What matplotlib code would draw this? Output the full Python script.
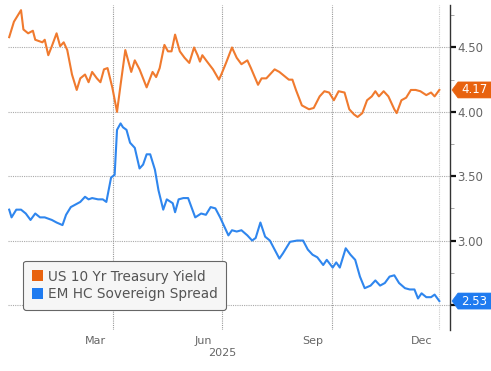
import pandas as pd
import matplotlib.pyplot as plt
import matplotlib.dates as mdates
from matplotlib.ticker import MultipleLocator, FixedLocator
from matplotlib.patches import Polygon, Patch
from matplotlib.transforms import IdentityTransform

# ---- data ----
ust_dates = ['2024-12-03', '2024-12-07', '2024-12-13', '2024-12-15', '2024-12-19', '2024-12-23',
             '2024-12-25', '2024-12-31', '2025-01-02', '2025-01-05', '2025-01-08', '2025-01-12',
             '2025-01-15', '2025-01-18', '2025-01-21', '2025-01-25', '2025-01-29', '2025-02-01',
             '2025-02-05', '2025-02-08', '2025-02-11', '2025-02-15', '2025-02-18', '2025-02-21',
             '2025-02-24', '2025-02-28', '2025-03-04', '2025-03-07', '2025-03-11', '2025-03-16',
             '2025-03-19', '2025-03-23', '2025-03-29', '2025-04-03', '2025-04-06', '2025-04-09',
             '2025-04-13', '2025-04-16', '2025-04-19', '2025-04-22', '2025-04-26', '2025-04-30',
             '2025-05-04', '2025-05-08', '2025-05-11', '2025-05-13', '2025-05-15', '2025-05-19',
             '2025-05-24', '2025-05-29', '2025-05-31', '2025-06-04', '2025-06-09', '2025-06-13',
             '2025-06-17', '2025-06-22', '2025-06-25', '2025-07-01', '2025-07-04', '2025-07-08',
             '2025-07-15', '2025-07-19', '2025-07-27', '2025-07-30', '2025-08-02', '2025-08-07',
             '2025-08-13', '2025-08-17', '2025-08-22', '2025-08-26', '2025-08-30', '2025-09-03',
             '2025-09-07', '2025-09-12', '2025-09-16', '2025-09-20', '2025-09-23', '2025-09-27',
             '2025-10-01', '2025-10-05', '2025-10-08', '2025-10-11', '2025-10-15', '2025-10-19',
             '2025-10-24', '2025-10-26', '2025-10-30', '2025-11-03', '2025-11-07', '2025-11-11',
             '2025-11-15', '2025-11-20', '2025-11-24', '2025-11-27', '2025-12-01']
ust_yield = [4.58, 4.70, 4.79, 4.64, 4.61, 4.63,
             4.56, 4.54, 4.56, 4.44, 4.51, 4.61,
             4.51, 4.54, 4.48, 4.29, 4.17, 4.26,
             4.29, 4.23, 4.31, 4.26, 4.23, 4.33,
             4.34, 4.19, 4.00, 4.21, 4.48, 4.31,
             4.40, 4.33, 4.19, 4.31, 4.27, 4.34,
             4.52, 4.47, 4.47, 4.60, 4.47, 4.42,
             4.38, 4.50, 4.44, 4.39, 4.44, 4.39,
             4.33, 4.25, 4.29, 4.38, 4.50, 4.42,
             4.37, 4.40, 4.34, 4.21, 4.26, 4.26,
             4.33, 4.31, 4.25, 4.25, 4.17, 4.05,
             4.02, 4.03, 4.12, 4.16, 4.15, 4.09,
             4.16, 4.15, 4.02, 3.98, 3.96, 3.99,
             4.09, 4.12, 4.16, 4.12, 4.16, 4.12,
             4.02, 3.99, 4.09, 4.11, 4.17, 4.17,
             4.16, 4.13, 4.15, 4.12, 4.17]

em_dates = ['2024-12-03', '2024-12-05', '2024-12-09', '2024-12-13', '2024-12-17', '2024-12-21',
            '2024-12-25', '2024-12-29', '2025-01-02', '2025-01-08', '2025-01-12', '2025-01-17',
            '2025-01-20', '2025-01-24', '2025-01-28', '2025-02-01', '2025-02-05', '2025-02-08',
            '2025-02-11', '2025-02-16', '2025-02-20', '2025-02-23', '2025-02-27', '2025-03-02',
            '2025-03-04', '2025-03-07', '2025-03-09', '2025-03-12', '2025-03-15', '2025-03-19',
            '2025-03-23', '2025-03-26', '2025-03-29', '2025-04-01', '2025-04-05', '2025-04-08',
            '2025-04-12', '2025-04-15', '2025-04-20', '2025-04-22', '2025-04-25', '2025-04-29',
            '2025-05-03', '2025-05-05', '2025-05-09', '2025-05-14', '2025-05-18', '2025-05-22',
            '2025-05-26', '2025-05-30', '2025-06-03', '2025-06-06', '2025-06-09', '2025-06-13',
            '2025-06-17', '2025-06-22', '2025-06-26', '2025-06-29', '2025-07-03', '2025-07-07',
            '2025-07-11', '2025-07-15', '2025-07-19', '2025-07-22', '2025-07-28', '2025-08-03',
            '2025-08-08', '2025-08-12', '2025-08-16', '2025-08-20', '2025-08-25', '2025-08-28',
            '2025-09-02', '2025-09-05', '2025-09-08', '2025-09-13', '2025-09-17', '2025-09-21',
            '2025-09-25', '2025-09-29', '2025-10-04', '2025-10-08', '2025-10-12', '2025-10-16',
            '2025-10-20', '2025-10-24', '2025-10-28', '2025-11-02', '2025-11-06', '2025-11-10',
            '2025-11-13', '2025-11-16', '2025-11-20', '2025-11-24', '2025-11-27', '2025-12-01']
em_spread = [3.24, 3.18, 3.24, 3.24, 3.21, 3.16,
             3.21, 3.18, 3.18, 3.16, 3.14, 3.12,
             3.20, 3.26, 3.28, 3.30, 3.34, 3.32,
             3.33, 3.32, 3.32, 3.30, 3.49, 3.51,
             3.86, 3.91, 3.88, 3.86, 3.76, 3.72,
             3.56, 3.59, 3.67, 3.67, 3.55, 3.39,
             3.24, 3.32, 3.29, 3.22, 3.32, 3.33,
             3.33, 3.28, 3.18, 3.21, 3.20, 3.26,
             3.25, 3.18, 3.10, 3.04, 3.08, 3.07,
             3.08, 3.04, 3.00, 3.02, 3.14, 3.03,
             3.00, 2.93, 2.86, 2.90, 2.99, 3.00,
             3.00, 2.93, 2.89, 2.87, 2.81, 2.85,
             2.79, 2.83, 2.79, 2.94, 2.89, 2.85,
             2.72, 2.63, 2.65, 2.69, 2.65, 2.67,
             2.72, 2.73, 2.67, 2.63, 2.62, 2.62,
             2.55, 2.59, 2.56, 2.56, 2.58, 2.53]

series_names = ['US 10 Yr Treasury Yield', 'EM HC Sovereign Spread']
last_labels = ['4.17', '2.53']
y_ticks = [2.50, 3.00, 3.50, 4.00, 4.50]
y_tick_labels = ['', '3.00', '3.50', '4.00', '4.50']   # 2.50 sits under the blue tag
month_labels = ['Mar', 'Jun', 'Sep', 'Dec']

ORANGE = '#F07A2E'
BLUE = '#2F86EE'
TAG_ORANGE = '#E8620E'
TAG_BLUE = '#1F7BF0'

ust = pd.Series(ust_yield, index=pd.to_datetime(ust_dates))
em = pd.Series(em_spread, index=pd.to_datetime(em_dates))

fig = plt.figure(figsize=(4.91, 3.71), dpi=100)
ax = fig.add_axes([8 / 491, 1 - 330 / 371, 442 / 491, 325 / 371])

ax.plot(ust.index, ust.values, color=ORANGE, lw=1.5)
ax.plot(em.index, em.values, color=BLUE, lw=1.5)

ax.set_xlim(pd.Timestamp('2024-12-02'), pd.Timestamp('2025-12-10'))
ax.set_ylim(2.305, 4.83)

# ---- y axis on the right ----
for s in ['left', 'top', 'bottom']:
    ax.spines[s].set_visible(False)
ax.spines['right'].set_color('#333333')
ax.spines['right'].set_linewidth(1.0)
ax.yaxis.tick_right()
ax.set_yticks(y_ticks)
ax.set_yticklabels(y_tick_labels)
ax.yaxis.set_minor_locator(MultipleLocator(0.25))
ax.tick_params(axis='y', which='major', direction='out', length=4, width=1.6,
               color='#111111', labelsize=8.5, labelcolor='#666666', pad=1)
ax.tick_params(axis='y', which='minor', direction='out', length=3, width=0.6,
               color='#999999')

# ---- x axis: gridlines at quarter starts, labels a bit to the left ----
grid_dates = pd.to_datetime(['2025-03-01', '2025-06-01', '2025-09-01', '2025-12-01'])
label_dates = pd.to_datetime(['2025-02-14', '2025-05-16', '2025-08-16', '2025-11-16'])
ax.xaxis.set_major_locator(FixedLocator(mdates.date2num(grid_dates)))
ax.xaxis.set_minor_locator(FixedLocator(mdates.date2num(label_dates)))
ax.set_xticklabels([], minor=False)
ax.set_xticklabels(month_labels, minor=True)
ax.tick_params(axis='x', which='both', length=0, labelsize=8, labelcolor='#666666', pad=4)

for y in y_ticks:
    ax.axhline(y, color='#aaaaaa', lw=0.8, ls=(0, (1, 1)), zorder=0)
for d in grid_dates[:3]:
    ax.axvline(d, color='#999999', lw=0.8, ls=(0, (1, 1)), zorder=0)
ax.axvline(grid_dates[3], color='#cccccc', lw=0.8, ls=(0, (1, 1)), zorder=0)

ax.text(mdates.date2num(pd.Timestamp('2025-06-01')), -0.055, '2025',
        transform=ax.get_xaxis_transform(), ha='center', va='top', fontsize=8, color='#666666')

# ---- last value tags (pointed on the left) ----
fig.canvas.draw()
x0 = ax.transAxes.transform((1.0, 0))[0]
for val, txt, col in [(ust.values[-1], last_labels[0], TAG_ORANGE),
                      (em.values[-1], last_labels[1], TAG_BLUE)]:
    yp = ax.transData.transform((0, val))[1]
    pts = [(x0 + 2, yp), (x0 + 8, yp + 8), (x0 + 41, yp + 8),
           (x0 + 41, yp - 8), (x0 + 8, yp - 8)]
    fig.add_artist(Polygon(pts, closed=True, fc=col, ec=col, lw=0.5,
                           transform=IdentityTransform()))
    fig.text((x0 + 24) / fig.bbox.width, yp / fig.bbox.height, txt, ha='center', va='center',
             fontsize=8.5, color='white')

# ---- legend with square swatches ----
handles = [Patch(fc=TAG_ORANGE, ec='none'), Patch(fc=TAG_BLUE, ec='none')]
leg = ax.legend(handles, series_names, loc='lower left', bbox_to_anchor=(0.034, 0.062),
                fontsize=9.8, frameon=True, fancybox=True, handlelength=0.85, handleheight=0.85,
                handletextpad=0.3, borderpad=0.65, labelspacing=0.25, labelcolor='#555555',
                borderaxespad=0)
leg.get_frame().set_edgecolor('#666666')
leg.get_frame().set_facecolor('#f6f6f6')
leg.get_frame().set_linewidth(0.8)
leg.get_frame().set_alpha(1)

fig.savefig('out.png', dpi=100)
